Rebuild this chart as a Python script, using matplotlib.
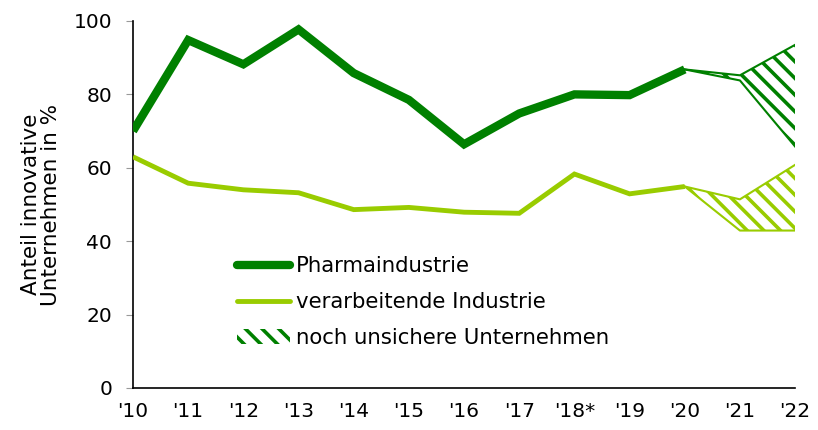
import numpy as np
import matplotlib
matplotlib.use('Agg')
import matplotlib.pyplot as plt
from matplotlib.lines import Line2D
from matplotlib.patches import Patch

# data
years = ["'10", "'11", "'12", "'13", "'14", "'15", "'16", "'17", "'18*", "'19", "'20", "'21", "'22"]
pharma = [70.0, 94.8, 88.2, 97.7, 85.8, 78.5, 66.4, 74.8, 80.0, 79.8, 86.8]
industrie = [63.0, 55.8, 54.0, 53.2, 48.6, 49.2, 47.9, 47.6, 58.3, 52.9, 54.9]
# uncertain range '20 .. '22 (upper / lower)
pharma_hi = [86.8, 85.2, 93.5]
pharma_lo = [86.8, 83.8, 65.8]
industrie_hi = [54.9, 51.4, 60.8]
industrie_lo = [54.9, 42.9, 42.9]

dark = '#008000'
light = '#99cc00'

plt.rcParams['font.family'] = ['DejaVu Sans']
plt.rcParams['hatch.linewidth'] = 2.6

fig = plt.figure(figsize=(8.18, 4.3), dpi=100)
ax = fig.add_axes([0.1626, 0.0977, 0.8094, 0.8535])

x = np.arange(len(years))
xa = x[:len(pharma)]
xu = x[len(pharma) - 1:]

ax.plot(xa, pharma, color=dark, lw=6, solid_capstyle='butt', solid_joinstyle='miter', zorder=3)
ax.plot(xa, industrie, color=light, lw=3.5, solid_capstyle='butt', solid_joinstyle='miter', zorder=3)

for hi, lo, col in [(pharma_hi, pharma_lo, dark), (industrie_hi, industrie_lo, light)]:
    ax.fill_between(xu, lo, hi, facecolor='none', edgecolor=col, hatch='\\\\', linewidth=0, zorder=2)
    ax.plot(xu, hi, color=col, lw=1.5, zorder=2)
    ax.plot(xu, lo, color=col, lw=1.5, zorder=2)

ax.set_xlim(0, len(years) - 1)
ax.set_ylim(0, 100)
ax.set_yticks([0, 20, 40, 60, 80, 100])
ax.set_xticks(x)
ax.set_xticklabels(years)
ax.tick_params(axis='y', length=5, color='#999999', labelsize=14.5, pad=10)
ax.tick_params(axis='x', length=0, labelsize=14.5, pad=10)
for s in ['top', 'right']:
    ax.spines[s].set_visible(False)
ax.spines['left'].set_linewidth(1.2)
ax.spines['bottom'].set_linewidth(1.2)
ax.set_ylabel('Anteil innovative\nUnternehmen in %', fontsize=15.5, labelpad=9, linespacing=1.0)

handles = [
    Line2D([], [], color=dark, lw=6, solid_capstyle='round'),
    Line2D([], [], color=light, lw=3.5, solid_capstyle='round'),
    Patch(facecolor='none', edgecolor=dark, hatch='\\\\', linewidth=0),
]
labels = ['Pharmaindustrie', 'verarbeitende Industrie', 'noch unsichere Unternehmen']
ax.legend(handles, labels, loc='upper left', bbox_to_anchor=(0.266, 0.449), bbox_transform=fig.transFigure,
          frameon=False, fontsize=15.3, handlelength=2.5, handletextpad=0.3, labelspacing=0.75)

fig.savefig('out.png', dpi=100)
